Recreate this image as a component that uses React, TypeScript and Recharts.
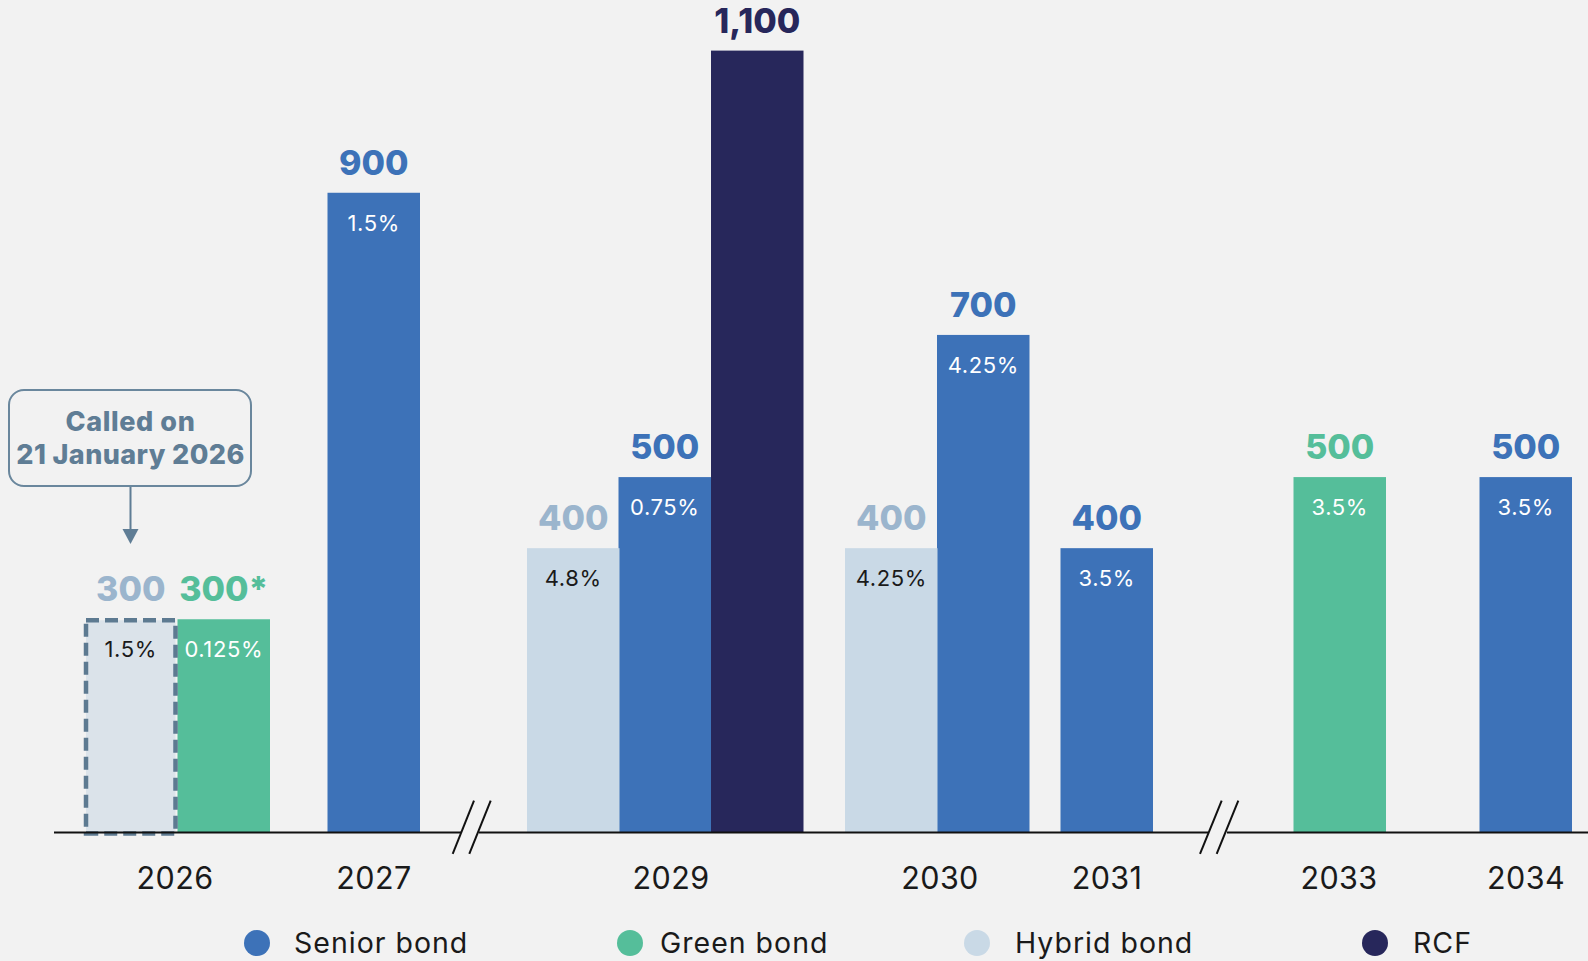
import React from 'react';
import { BarChart, Bar, XAxis, YAxis, ReferenceLine } from 'recharts';

// ---------- data ----------
const years = ['2026', '2027', '2029', '2030', '2031', '2033', '2034'];
const seriesKeys = ['senior', 'green', 'hybrid', 'rcf'];
const seriesNames = ['Senior bond', 'Green bond', 'Hybrid bond', 'RCF'];

const barYear = ['2026', '2026', '2027', '2029', '2029', '2029', '2030', '2030', '2031', '2033', '2034'];
const barSeries = ['hybrid', 'green', 'senior', 'hybrid', 'senior', 'rcf', 'hybrid', 'senior', 'senior', 'green', 'senior'];
const barValues = [300, 300, 900, 400, 500, 1100, 400, 700, 400, 500, 500];
const barLabels = ['300', '300*', '900', '400', '500', '1,100', '400', '700', '400', '500', '500'];
const barRates = ['1.5%', '0.125%', '1.5%', '4.8%', '0.75%', '', '4.25%', '4.25%', '3.5%', '3.5%', '3.5%'];
const barCalled = [true, false, false, false, false, false, false, false, false, false, false];

// ---------- layout (axis units along the irregular x axis) ----------
const X_MAX = 1534;
const barSlots = [76.5, 169.5, 319.5, 519, 610.5, 703, 837, 929, 1052.5, 1285.5, 1471.5];
const yearSlots = [121, 320, 617, 886, 1053, 1285, 1472];
const axisPieces = [[0, 407], [425, 1154], [1173, X_MAX]];
const breakMarks = [[398.7, 420], [415.3, 436.7], [1146, 1167.7], [1162.7, 1184.3]];

// ---------- styles ----------
const FONT = 'Inter, "Noto Sans", sans-serif';
const BG = '#f2f2f2';
const colors: Record<string, string> = {
  senior: '#3d72b8',
  green: '#55be9a',
  hybrid: '#c9d9e6',
  rcf: '#27275b',
};
const labelColors: Record<string, string> = {
  senior: '#3d72b8',
  green: '#55be9a',
  hybrid: '#9bb5cd',
  rcf: '#27275b',
};
const rateColors: Record<string, string> = {
  senior: '#ffffff',
  green: '#ffffff',
  hybrid: '#1a1a1a',
  rcf: '#ffffff',
};
const BAR_W = 92.5;

const data = barValues.map((v, i) => {
  const row: any = {
    x: barSlots[i],
    year: barYear[i],
    label: barLabels[i],
    rate: barRates[i],
    called: barCalled[i],
    series: barSeries[i],
  };
  seriesKeys.forEach((k) => {
    row[k] = barSeries[i] === k ? v : null;
  });
  return row;
});

const makeShape = (key: string) => (props: any) => {
  const { x, y, width, height, payload } = props;
  if (!payload || payload[key] == null || !(height > 0)) return <g />;
  const cx = x + width / 2;
  const left = cx - BAR_W / 2;
  const called = payload.called;
  return (
    <g>
      {called ? (
        <rect
          x={left + 1.5}
          y={y + 1}
          width={BAR_W - 3}
          height={height}
          fill="#dbe3ea"
          stroke="#5d7a91"
          strokeWidth={4.5}
          strokeDasharray="13 6"
        />
      ) : (
        <rect x={left} y={y} width={BAR_W} height={height} fill={colors[key]} />
      )}
      <text
        x={cx}
        y={y - 18}
        textAnchor="middle"
        fontFamily={FONT}
        fontWeight={800}
        fontSize={34}
        fill={labelColors[key]}
      >
        {payload.label}
      </text>
      {payload.rate ? (
        <text
          x={cx}
          y={y + 38}
          textAnchor="middle"
          fontFamily={FONT}
          fontSize={22}
          letterSpacing={0.6}
          fill={rateColors[key]}
        >
          {payload.rate}
        </text>
      ) : null}
    </g>
  );
};

const YearTick = (props: any) => {
  const { x, y, payload } = props;
  const i = yearSlots.indexOf(payload.value);
  return (
    <text x={x} y={y + 56} textAnchor="middle" fontFamily={FONT} fontSize={30.5} letterSpacing={0.4} fill="#1a1a1a">
      {i >= 0 ? years[i] : ''}
    </text>
  );
};

const legendDot = [257, 630, 977, 1375];
const legendText = [294, 660, 1015, 1413];

export default function App() {
  return (
    <div
      style={{
        position: 'absolute',
        left: 0,
        top: 0,
        width: 1588,
        height: 961,
        background: BG,
        overflow: 'hidden',
      }}
    >
      <BarChart
        width={1588}
        height={961}
        data={data}
        margin={{ top: 50.6, right: 0, left: 54, bottom: 68.5 }}
      >
        <XAxis
          type="number"
          dataKey="x"
          domain={[0, X_MAX]}
          ticks={yearSlots}
          interval={0}
          axisLine={false}
          tickLine={false}
          tickSize={0}
          tickMargin={0}
          height={60}
          tick={<YearTick />}
        />
        <YAxis type="number" hide domain={[0, 1100]} />
        {seriesKeys.map((k) => (
          <Bar
            key={k}
            dataKey={k}
            stackId="s"
            fill={colors[k]}
            barSize={60}
            isAnimationActive={false}
            shape={makeShape(k)}
          />
        ))}
        {axisPieces.map((p, i) => (
          <ReferenceLine
            key={'a' + i}
            segment={[{ x: p[0], y: 0 }, { x: p[1], y: 0 }]}
            stroke="#111111"
            strokeWidth={2}
            ifOverflow="visible"
          />
        ))}
        {breakMarks.map((p, i) => (
          <ReferenceLine
            key={'b' + i}
            segment={[{ x: p[0], y: -30 }, { x: p[1], y: 45 }]}
            stroke="#111111"
            strokeWidth={2}
            ifOverflow="visible"
          />
        ))}
      </BarChart>

      {/* callout */}
      <svg
        width={300}
        height={560}
        style={{ position: 'absolute', left: 0, top: 0, pointerEvents: 'none' }}
      >
        <rect x={9} y={390} width={242} height={96} rx={15} ry={15} fill={BG} stroke="#6a879d" strokeWidth={2} />
        <text x={130.5} y={431} textAnchor="middle" fontFamily={FONT} fontWeight={800} fontSize={27} letterSpacing={0.6} fill="#5f7d95">
          Called on
        </text>
        <text x={130.5} y={464} textAnchor="middle" fontFamily={FONT} fontWeight={800} fontSize={27} letterSpacing={0.4} fill="#5f7d95">
          21 January 2026
        </text>
        <line x1={130.5} y1={487} x2={130.5} y2={530} stroke="#5f7d95" strokeWidth={2} />
        <polygon points="122.5,529 138.5,529 130.5,544" fill="#5f7d95" />
      </svg>

      {/* legend */}
      {seriesKeys.map((k, i) => (
        <div key={k}>
          <div
            style={{
              position: 'absolute',
              left: legendDot[i] - 13,
              top: 930,
              width: 26,
              height: 26,
              borderRadius: 13,
              background: colors[k],
            }}
          />
          <div
            style={{
              position: 'absolute',
              left: legendText[i],
              top: 925,
              height: 36,
              lineHeight: '36px',
              fontFamily: FONT,
              fontSize: 28.5,
              letterSpacing: 1,
              color: '#1a1a1a',
              whiteSpace: 'nowrap',
            }}
          >
            {seriesNames[i]}
          </div>
        </div>
      ))}
    </div>
  );
}
